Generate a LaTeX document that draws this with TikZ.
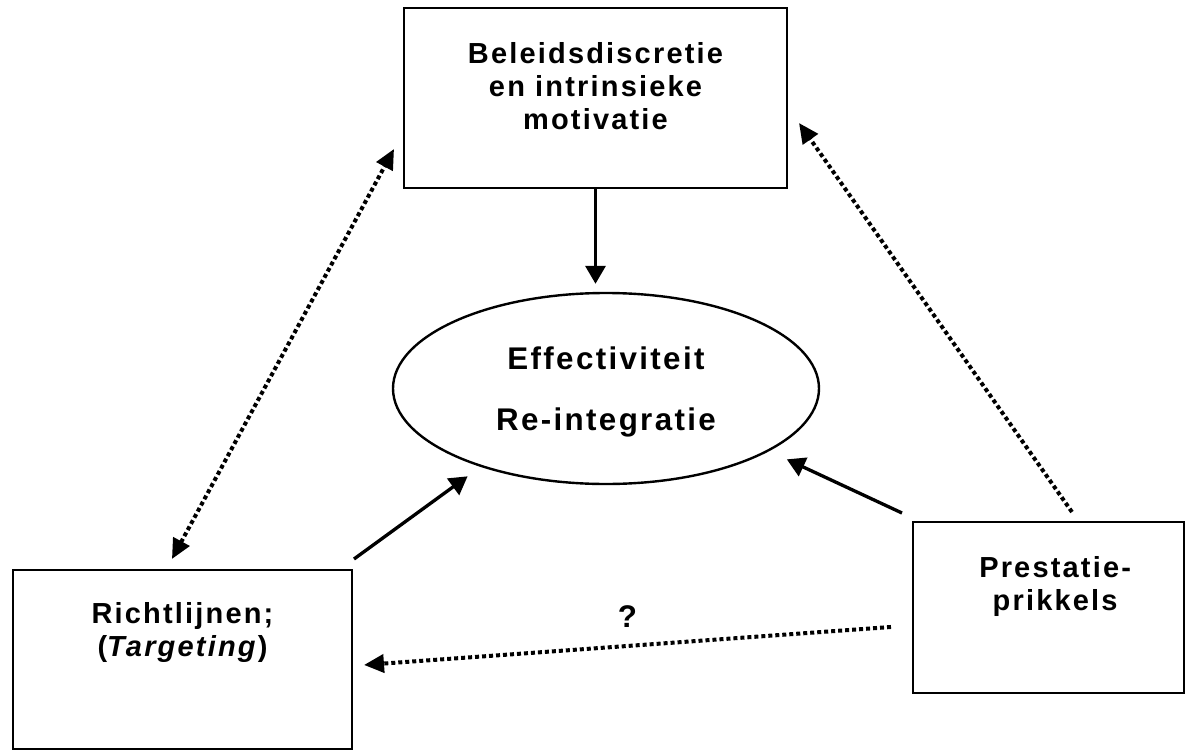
\documentclass[tikz,border=0pt]{standalone}
\usepackage{fontspec}
\setmainfont{Liberation Sans}
\newfontfamily\diagfont[LetterSpace=7.5]{Liberation Sans}
\usetikzlibrary{arrows.meta, positioning, shapes.geometric}

\begin{document}
\begin{tikzpicture}[
		x=0.75pt, y=-0.75pt,
		box/.style={draw=black, line width=1.5pt, inner sep=0pt},
		box text/.style={align=center, inner sep=0pt, font=\diagfont\bfseries\fontsize{21.75}{24.75}\selectfont},
		goal/.style={ellipse, draw=black, line width=1.8pt, inner sep=0pt, minimum width=319.5pt, minimum height=143.25pt, align=center, text depth=0pt, font=\diagfont\bfseries\fontsize{23.5}{45.75}\selectfont},
		qmark/.style={inner sep=0pt, font=\diagfont\bfseries\fontsize{23.5}{28}\selectfont},
		main arrow/.style={-{Triangle[length=13.5pt, width=15pt]}, line width=2.5pt},
		link tip/.tip={Triangle[length=15pt, width=13.5pt]},
		link arrow/.style={-link tip, line width=3pt, dash pattern=on 3pt off 2.25pt}
		]
		\useasboundingbox (0,0) rectangle (1186,750);
		
		% =========================================================
		% Boxes
		% =========================================================
		\node[box, minimum width=287.25pt, minimum height=135pt] (bel) at (595.5,98) {};
		\node[box text, below=26.25pt of bel.north] (bel text) {Beleidsdiscretie\\en intrinsieke\\motivatie};
		
		\node[box, minimum width=254.25pt, minimum height=134.25pt] (rich) at (182.5,659.5) {};
		\node[box text, below=24.75pt of rich.north] (rich text) {Richtlijnen;\\(\textit{Targeting})};
		
		\node[box, minimum width=203.25pt, minimum height=128.25pt] (pres) at (1048.5,607.5) {};
		\node[box text, below=26.25pt of pres.north, xshift=5pt] (pres text) {Prestatie-\\prikkels};
		
		% Central ellipse
		\node[goal] (eff) at (606,388.5) {Effectiviteit\\Re-integratie};
		
		% =========================================================
		% Solid arrows into the ellipse
		% =========================================================
		\draw[main arrow, shorten >=6pt] (bel.south) -- (bel.south |- eff.north);
		\draw[main arrow, shorten >=12pt] ([xshift=0.75pt, yshift=7.5pt]rich.north east) -- (eff.212);
		\draw[main arrow, shorten >=14.6pt] ([xshift=-7.5pt, yshift=6pt]pres.north west) -- (eff.339);
		
		% =========================================================
		% Dotted links
		% =========================================================
		\draw[link arrow, link tip-link tip] ([xshift=-7.9pt, yshift=7.5pt]rich.north) -- ([xshift=-6.75pt, yshift=30pt]bel.south west);
		\draw[link arrow] ([xshift=17.6pt, yshift=6.75pt]pres.north) -- ([xshift=8.25pt, yshift=-18.75pt]bel.east);
		\draw[link arrow] ([xshift=-15.75pt, yshift=-14.6pt]pres.west) -- node[qmark, anchor=base, yshift=13.5pt] (q) {?} ([xshift=8.25pt, yshift=-4.1pt]rich.east);
		
	\end{tikzpicture}
\end{document}
